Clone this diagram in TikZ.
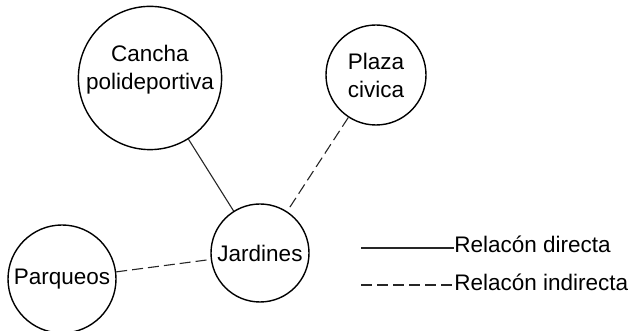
\documentclass[tikz,border=0pt]{standalone}
\usepackage{fontspec}
\setmainfont{Liberation Sans}
\usepackage{tikz}
\tikzstyle{place}=[draw,circle,inner sep=0pt,align=center,line width=0.7pt]
\tikzstyle{every node}=[font=\fontsize{11.25}{14}\selectfont]
\tikzstyle{direct}=[line width=0.55pt,draw=black!85]
\tikzstyle{indirect}=[line width=0.55pt,draw=black!85,dash pattern=on 5.5pt off 2.5pt]

\begin{document}
\begin{tikzpicture}[node distance=1cm]
            \useasboundingbox (0,0) rectangle (315.5pt,165.5pt);
            \node[place, minimum size=49pt] (jar) at (130pt,39pt) {Jardines};
            \node[place, minimum size=70pt, text depth=11pt, above of=jar, node distance=87.5pt, xshift=-55pt] (cancha) {Cancha\\polideportiva};
            \node[place, minimum size=50pt, above of=jar, node distance=89pt, xshift=58pt] (plaza) {Plaza\\civica};
            \node[place, minimum size=54pt, left of=jar, node distance=99pt, yshift=-13pt] (parq) {Parqueos};
            \draw[direct] (cancha) -- (jar);
            \draw[indirect] (plaza) -- (jar);
            \draw[indirect] (parq) -- (jar);
            % leyenda
            \coordinate (ld) at (180.5pt,41.5pt);
            \coordinate (li) at (180.5pt,23pt);
            \node[anchor=base west, inner sep=0pt] (dir) at (227pt,39pt) {Relacón directa};
            \node[anchor=base west, inner sep=0pt] (ind) at (227pt,20pt) {Relacón indirecta};
            \draw[direct] (ld) -- (ld -| dir.west);
            \draw[indirect] (li) -- (li -| ind.west);
        \end{tikzpicture}
\end{document}
